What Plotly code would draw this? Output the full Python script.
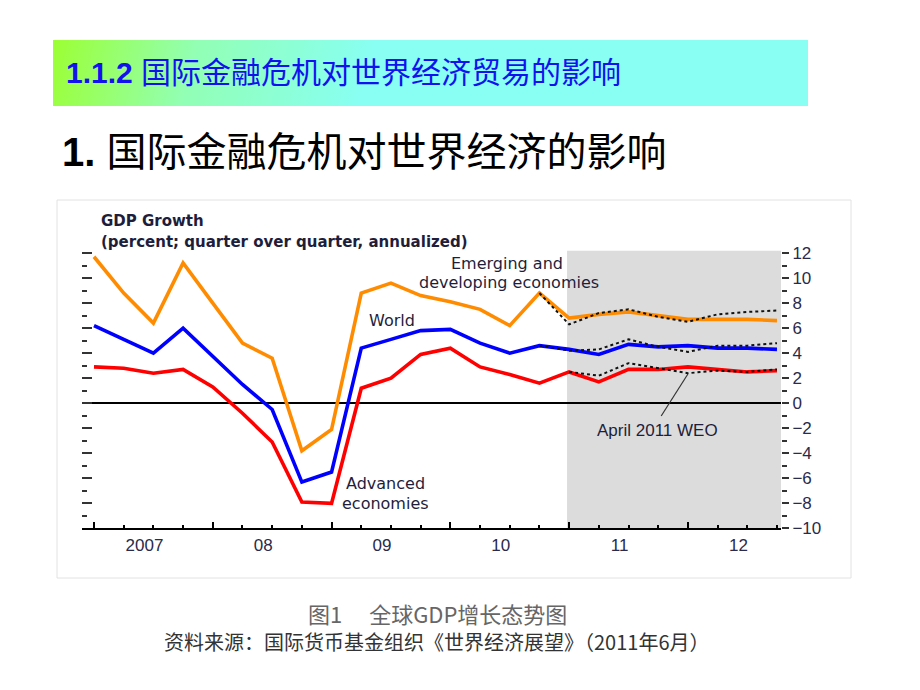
import base64
import plotly.graph_objects as go

# ---------------- data (quarter index 0 = 2007Q1 ... 23 = 2012Q4) ----------------
quarters = list(range(24))
year_labels = ["2007", "08", "09", "10", "11", "12"]

emerging = [11.7, 8.8, 6.4, 11.2, 8.0, 4.8, 3.6, -3.8, -2.1, 8.8, 9.6, 8.6,
            8.1, 7.5, 6.2, 8.8, 6.8, 7.1, 7.3, 7.0, 6.7, 6.7, 6.7, 6.6]
world = [6.2, 5.1, 4.0, 6.0, 3.7, 1.5, -0.5, -6.3, -5.5, 4.4, 5.1, 5.8,
         5.9, 4.8, 4.0, 4.6, 4.3, 3.9, 4.7, 4.5, 4.6, 4.4, 4.4, 4.3]
advanced = [2.9, 2.8, 2.4, 2.7, 1.3, -0.8, -3.1, -7.9, -8.0, 1.2, 2.0, 3.9,
            4.4, 2.9, 2.3, 1.6, 2.5, 1.7, 2.7, 2.7, 2.9, 2.7, 2.5, 2.6]

weo_quarters = list(range(15, 24))
weo_emerging = [8.8, 6.3, 7.2, 7.5, 6.9, 6.5, 7.1, 7.3, 7.4]
weo_world = [4.6, 4.2, 4.3, 5.1, 4.5, 4.1, 4.6, 4.6, 4.8]
weo_adv_quarters = list(range(16, 24))
weo_advanced = [2.5, 2.2, 3.2, 2.8, 2.4, 2.6, 2.5, 2.7]

# ---------------- layout helpers ----------------
W, H = 920, 690
def px(x):
    return x / W
def py(y):
    return 1 - y / H

XMIN, XMAX = -0.404, 23.135
YMIN, YMAX = -10, 12.2
SHADE_START = 15.93
label_pos = [4 * k + 1.5 + 0.2 for k in range(len(year_labels))]

ORANGE, BLUE, RED = "#FF8C00", "#0000FF", "#FF0000"
TXT = "#1e1e3c"
SANS = "Liberation Sans, Arial, sans-serif"
DEJA = "DejaVu Sans, Verdana, sans-serif"
CJK = "Liberation Sans, Noto Sans CJK SC, sans-serif"

fig = go.Figure()

for ys, col in [(emerging, ORANGE), (world, BLUE), (advanced, RED)]:
    fig.add_trace(go.Scatter(x=quarters, y=ys, mode="lines",
                             line=dict(color=col, width=3.6), hoverinfo="skip",
                             showlegend=False))

for xs, ys in [(weo_quarters, weo_emerging), (weo_quarters, weo_world),
               (weo_adv_quarters, weo_advanced)]:
    fig.add_trace(go.Scatter(x=xs, y=ys, mode="lines",
                             line=dict(color="#111111", width=2, dash="dot"),
                             hoverinfo="skip", showlegend=False))

# dummy traces so the overlay axes exist
fig.add_trace(go.Scatter(x=[], y=[], xaxis="x2", yaxis="y", showlegend=False))
fig.add_trace(go.Scatter(x=[], y=[], xaxis="x", yaxis="y2", showlegend=False))

# ---------------- title bar gradient as svg image ----------------
svg = ('<svg xmlns="http://www.w3.org/2000/svg" width="755" height="66" '
       'viewBox="0 0 755 66" preserveAspectRatio="none">'
       '<defs><linearGradient id="g" gradientUnits="userSpaceOnUse" x1="0" y1="0" x2="300" y2="80">'
       '<stop offset="0" stop-color="#9CFF33"/>'
       '<stop offset="0.45" stop-color="#92FFB4"/>'
       '<stop offset="1" stop-color="#88FFF2"/>'
       '</linearGradient></defs>'
       '<rect x="0" y="0" width="755" height="66" fill="url(#g)"/></svg>')
svg_uri = "data:image/svg+xml;base64," + base64.b64encode(svg.encode()).decode()

fig.update_layout(
    width=W, height=H, autosize=False,
    margin=dict(l=0, r=0, t=0, b=0, pad=0, autoexpand=False),
    paper_bgcolor="white", plot_bgcolor="rgba(0,0,0,0)",
    showlegend=False,
    images=[dict(source=svg_uri, xref="paper", yref="paper",
                 x=px(53), y=py(40), sizex=px(808) - px(53), sizey=66 / H,
                 sizing="stretch", xanchor="left", yanchor="top", layer="below")],
    xaxis=dict(domain=[px(82), px(781)], range=[XMIN, XMAX], anchor="y",
               automargin=False,
               tickmode="array", tickvals=label_pos, ticktext=year_labels,
               ticks="", showline=True, linecolor="black", linewidth=1.5,
               showgrid=False, zeroline=False,
               tickfont=dict(family=SANS, size=17, color="#2a2a4a")),
    xaxis2=dict(overlaying="x", range=[XMIN, XMAX], anchor="y", side="bottom",
                automargin=False,
                tickmode="linear", tick0=0, dtick=4, ticks="inside", ticklen=6,
                tickwidth=1.5, tickcolor="black", showticklabels=False,
                showgrid=False, zeroline=False, showline=False,
                minor=dict(tick0=0, dtick=1, ticks="inside", ticklen=3,
                           tickwidth=1.5, tickcolor="black", showgrid=False)),
    yaxis=dict(domain=[1 - 528.4 / H, 1 - 250.5 / H], range=[YMIN, YMAX],
               anchor="x", side="left", automargin=False,
               tickmode="linear", tick0=0, dtick=2,
               ticks="inside", ticklen=10, tickwidth=2, tickcolor="#333333",
               showticklabels=False, showgrid=False,
               zeroline=True, zerolinecolor="black", zerolinewidth=1.6,
               minor=dict(tick0=0, dtick=1, ticks="inside", ticklen=5,
                          tickwidth=2, tickcolor="#333333", showgrid=False)),
    yaxis2=dict(overlaying="y", side="right", anchor="x", range=[YMIN, YMAX],
                automargin=False,
                tickmode="linear", tick0=0, dtick=2, ticks="outside",
                ticklen=7, tickwidth=2, tickcolor="#333333",
                showgrid=False, zeroline=False, showline=False,
                tickfont=dict(family=SANS, size=17, color="#2a2a4a"),
                minor=dict(tick0=0, dtick=1, ticks="outside", ticklen=5,
                           tickwidth=2, tickcolor="#333333", showgrid=False)),
)

# ---------------- shapes ----------------
fig.add_shape(type="rect", xref="x", yref="y", x0=SHADE_START, x1=XMAX,
              y0=YMIN, y1=YMAX, fillcolor="#DCDCDC", line=dict(width=0),
              layer="below")
fig.add_shape(type="rect", xref="paper", yref="paper", x0=px(57), x1=px(851),
              y0=py(578), y1=py(200), line=dict(color="#E2E2E2", width=1),
              fillcolor="rgba(0,0,0,0)", layer="below")
fig.add_shape(type="line", xref="x", yref="y", x0=19.1, y0=-1.02, x1=20.0, y1=2.33,
              line=dict(color="#333333", width=1.2))

# ---------------- annotations ----------------
def ann(text, x, y, size, color=TXT, family=DEJA, xref="x", yref="y",
        xanchor="center", height=None):
    kw = {}
    if height is not None:
        kw = dict(height=height, borderpad=0)
    fig.add_annotation(text=text, x=x, y=y, xref=xref, yref=yref,
                       xanchor=xanchor, yanchor="middle", showarrow=False,
                       font=dict(family=family, size=size, color=color), **kw)

ann("Emerging and", 13.9, 11.16, 16, height=17)
ann("developing economies", 13.97, 9.64, 16, height=17)
ann("World", 10.05, 6.6, 16)
ann("Advanced", 9.8, -6.37, 16, height=18)
ann("economies", 9.8, -7.97, 16, height=18)
ann("April 2011 WEO", 18.99, -2.14, 17, family=SANS)

ann("<b>GDP Growth</b>", px(100), py(221), 15, xref="paper", yref="paper",
    xanchor="left", height=18)
ann("<b>(percent; quarter over quarter, annualized)</b>", px(100), py(242), 15,
    xref="paper", yref="paper", xanchor="left", height=18)

ann("<b>1.1.2</b> 国际金融危机对世界经济贸易的影响", px(64), py(73), 30,
    color="#1212EE", family=CJK, xref="paper", yref="paper", xanchor="left")
ann("<b>1.</b> 国际金融危机对世界经济的影响", px(60), py(152), 40,
    color="black", family=CJK, xref="paper", yref="paper", xanchor="left")

ann("图1\u3000 全球GDP增长态势图", px(437), py(613), 22, color="#666666",
    family="Noto Sans CJK SC, sans-serif", xref="paper", yref="paper")
ann("资料来源：国际货币基金组织《世界经济展望》（2011年6月）", px(437), py(641), 20,
    color="#333333", family="Noto Sans CJK SC, sans-serif", xref="paper",
    yref="paper")

fig.write_html(
    "out.html",
    config={"responsive": False, "displayModeBar": False},
    post_script=("document.documentElement.style.margin='0';"
                 "document.body.style.margin='0';document.body.style.padding='0';"
                 "document.documentElement.style.overflow='hidden';"
                 "document.body.style.overflow='hidden';"),
)
